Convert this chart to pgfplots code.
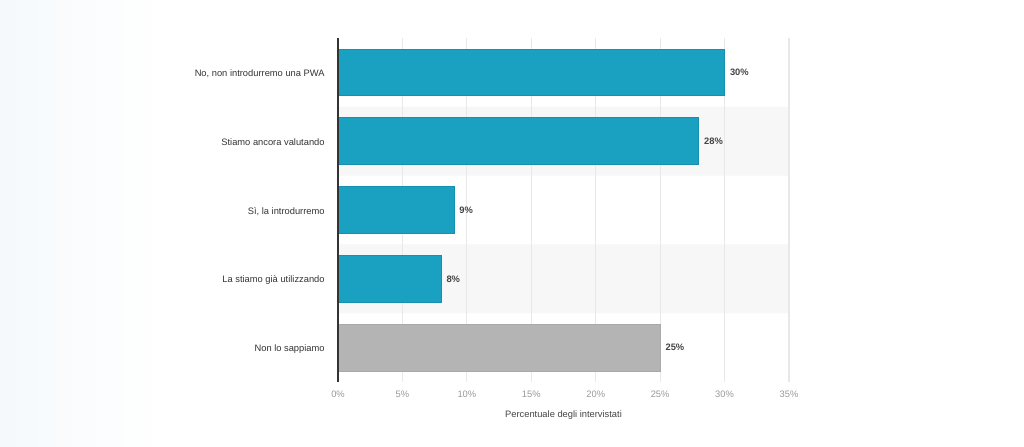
\documentclass[border=0pt]{standalone}
\usepackage{pgfplots}
\pgfplotsset{compat=1.18}
\usepackage{fontspec}
\setmainfont{Liberation Sans}
\definecolor{bgl}{HTML}{DFEBF4}
\definecolor{bgr}{HTML}{EDF5F9}
\definecolor{teal}{HTML}{1AA0C1}
\definecolor{tealb}{HTML}{1790B0}
\definecolor{greybar}{HTML}{B4B4B4}
\definecolor{greyb}{HTML}{A9A9A9}
\definecolor{band}{HTML}{F7F7F7}
\definecolor{gridc}{HTML}{E8E8E8}
\definecolor{labc}{HTML}{333333}
\definecolor{tickc}{HTML}{999999}
\definecolor{valc}{HTML}{444444}
\pgfdeclarehorizontalshading{bgshade}{100bp}{color(0bp)=(bgl); color(12bp)=(bgl!80!white); color(33bp)=(white); color(80bp)=(white); color(100bp)=(bgr)}
\pgfdeclarelayer{bgpic}
\pgfplotsset{
  layers/mylayers/.define layer set={bgpic,axis background,axis grid,axis ticks,axis lines,axis tick labels,pre main,main,axis descriptions,axis foreground}{},
}
\begin{document}
\begin{tikzpicture}
\begin{axis}[
  set layers=mylayers,
  at={(253.5pt,48pt)}, anchor=south west,
  scale only axis,
  width=338.25pt, height=258pt,
  xmin=0, xmax=35,
  ymin=-0.5, ymax=4.5,
  y dir=reverse,
  xtick={0,5,...,35},
  xticklabel={\pgfmathprintnumber{\tick}\%},
  ytick={0,1,2,3,4},
  yticklabels={{No, non introdurremo una PWA},{Stiamo ancora valutando},{Sì, la introdurremo},{La stiamo già utilizzando},{Non lo sappiamo}},
  axis line style={draw=none},
  major tick length=0pt,
  xmajorgrids, ymajorgrids=false,
  major grid style={color=gridc, line width=0.9pt},
  x tick label style={font=\fontsize{7}{8}\selectfont, color=tickc, yshift=-3.5pt},
  y tick label style={font=\fontsize{7}{8}\selectfont, color=labc, xshift=-6.5pt, yshift=-1pt},
  /pgf/number format/assume math mode=true,
  xlabel={Percentuale degli intervistati},
  xlabel style={font=\fontsize{7}{8}\selectfont, color=valc, at={(axis description cs:0.5,0)}, anchor=center, yshift=-24.75pt},
  clip=false,
]
\begin{pgfonlayer}{bgpic}
\shade[shading=bgshade] (axis description cs:-0.74945,-0.18605) rectangle (axis description cs:1.52106,1.11047);
\end{pgfonlayer}
\addplot[xbar, bar width=1, bar shift=0pt, fill=band, draw=none, on layer=axis background] coordinates {(35,1) (35,3)};
\addplot[xbar, bar width=0.68, bar shift=0pt, fill=teal, draw=tealb, line width=0.5pt,
  point meta=x, nodes near coords={\pgfmathprintnumber{\pgfplotspointmeta}\%},
  every node near coord/.append style={font=\bfseries\fontsize{7}{8}\selectfont, color=valc, xshift=0.5pt}]
  coordinates {(30,0) (28,1) (9,2) (8,3)};
\addplot[xbar, bar width=0.68, bar shift=0pt, fill=greybar, draw=greyb, line width=0.5pt,
  point meta=x, nodes near coords={\pgfmathprintnumber{\pgfplotspointmeta}\%},
  every node near coord/.append style={font=\bfseries\fontsize{7}{8}\selectfont, color=valc, xshift=0.5pt}]
  coordinates {(25,4)};
\draw[color=labc, line width=1pt] (axis description cs:0,0) -- (axis description cs:0,1);
\end{axis}
\pgfresetboundingbox
\path (0,0) rectangle (768pt,334.5pt);
\end{tikzpicture}
\end{document}
